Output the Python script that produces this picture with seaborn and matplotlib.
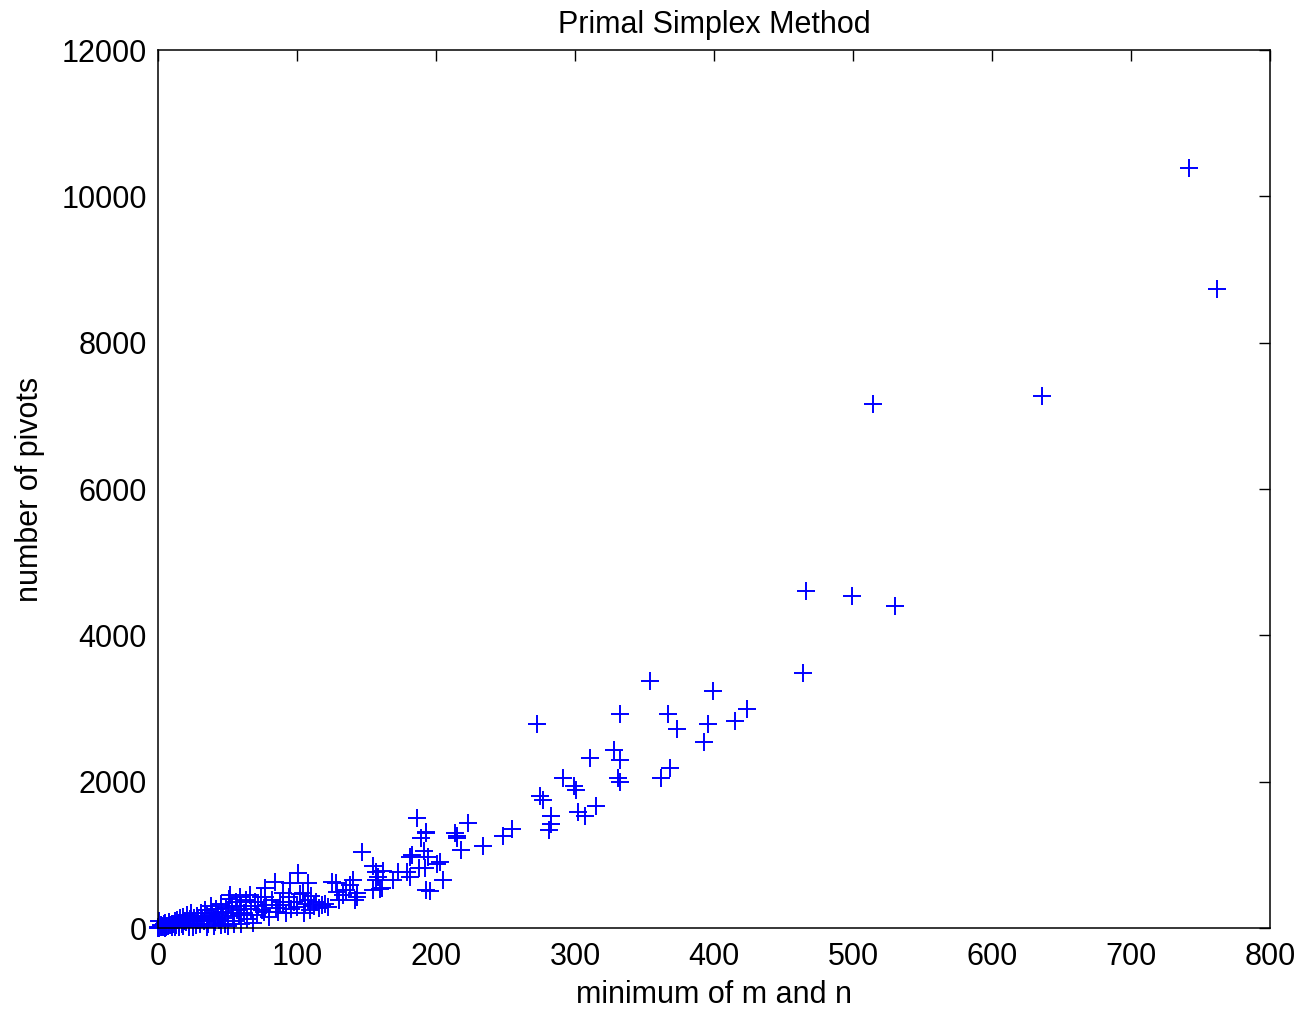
import matplotlib
matplotlib.use("Agg")
import matplotlib.pyplot as plt
import pandas as pd
import seaborn as sns

# (min(m, n), pivots) readings, larger problems first
upper_x = [742, 762, 514, 636, 466, 499, 530, 464, 354, 399, 424, 415, 396, 393, 373, 367,
           332, 273, 328, 332, 311, 368, 362, 331, 332, 291, 299, 301, 275, 277, 315, 302,
           307, 283, 283, 281, 255, 248, 234, 223, 215, 218, 214, 186, 193, 189, 191, 201,
           205, 193, 196, 147, 183, 181, 188, 162, 173, 155, 157, 157, 160, 140, 138, 143,
           142, 128, 135, 193, 215, 194, 203, 179, 192, 158, 169, 181, 161, 143, 155]
upper_y = [10390, 8730, 7160, 7270, 4600, 4540, 4400, 3490, 3380, 3240, 2990, 2830, 2790, 2540, 2720, 2920,
           2920, 2790, 2430, 2300, 2320, 2190, 2050, 2050, 1990, 2050, 1940, 1890, 1800, 1750, 1670, 1590,
           1530, 1530, 1420, 1340, 1350, 1260, 1120, 1440, 1260, 1070, 1300, 1500, 1310, 1230, 1050, 880,
           660, 520, 510, 1040, 1000, 970, 820, 780, 770, 850, 770, 660, 530, 660, 590, 480,
           380, 620, 520, 1300, 1230, 970, 900, 765, 820, 700, 656, 697, 547, 424, 519]

small_x = [0, 1, 2, 3, 4, 5, 6, 7, 8, 9, 10, 2, 4, 6, 8, 1, 3, 5, 10, 0,
           11, 12, 13, 14, 15, 16, 17, 18, 19, 20, 21, 22, 23, 24, 25, 26, 27, 28, 29, 30,
           12, 15, 18, 22, 25,
           31, 32, 33, 34, 35, 36, 37, 38, 39, 40, 41, 42, 43, 44, 45, 46, 47, 48, 49, 50,
           51, 52, 53, 54, 55, 56, 57, 58, 59, 60, 35, 40, 45, 50, 55, 60,
           62, 63, 64, 66, 67, 68, 70, 71, 72, 74, 75, 76, 77, 77, 78, 80, 82, 84, 85, 86,
           88, 90, 90, 92, 94, 95, 96, 98, 100, 101, 102, 104, 105, 106, 108, 108, 109, 110,
           112, 114, 116, 118, 120, 122, 125, 129, 130, 133]
small_y = [0, 5, 10, 15, 20, 0, 30, 25, 40, 35, 50, 40, 60, 10, 80, 100, 30, 70, 20, 20,
           60, 90, 40, 110, 70, 130, 50, 150, 100, 80, 180, 60, 120, 200, 90, 140, 40, 170, 110, 60,
           20, 10, 30, 20, 15,
           210, 130, 90, 250, 170, 60, 120, 300, 200, 150, 80, 260, 180, 110, 330, 220, 140, 60, 280, 200,
           400, 450, 300, 160, 100, 350, 250, 180, 420, 300, 20, 30, 40, 30, 50, 60,
           200, 380, 120, 450, 260, 70, 355, 180, 300, 420, 240, 220, 550, 420, 320, 150, 380, 630, 280, 220,
           350, 480, 310, 200, 420, 615, 260, 350, 290, 750, 460, 480, 200, 330, 380, 620, 250, 440,
           300, 360, 270, 310, 330, 290, 630, 490, 380, 450]

df = pd.DataFrame({"size": upper_x + small_x, "pivots": upper_y + small_y})

sns.set_theme(style="white")
plt.rcParams["font.family"] = ["Liberation Sans", "DejaVu Sans"]
plt.rcParams["xtick.direction"] = "in"
plt.rcParams["ytick.direction"] = "in"
plt.rcParams["text.color"] = "black"
plt.rcParams["axes.labelcolor"] = "black"

fig = plt.figure(figsize=(13.08, 10.13), dpi=100)
ax = fig.add_axes([0.1208, 0.0839, 0.8502, 0.8667])

sns.scatterplot(data=df, x="size", y="pivots", marker="+", color="#0000ff",
                s=150, linewidth=1.4, ax=ax)
ax.collections[0].set_clip_on(False)

ax.set_xlim(0, 800)
ax.set_ylim(0, 12000)
ax.set_xticks(range(0, 801, 100))
ax.set_yticks(range(0, 12001, 2000))
ax.tick_params(axis="both", labelsize=22, length=8, width=1, colors="black",
               top=True, right=True)
ax.tick_params(axis="x", pad=10)
ax.tick_params(axis="y", pad=8)
for sp in ax.spines.values():
    sp.set_color("black")
    sp.set_linewidth(1.1)

ax.set_title("Primal Simplex Method", fontsize=22, pad=12)
ax.set_xlabel("minimum of m and n", fontsize=22, labelpad=6)
ax.set_ylabel("number of pivots", fontsize=22, labelpad=12)

fig.savefig("out.png", dpi=100)
